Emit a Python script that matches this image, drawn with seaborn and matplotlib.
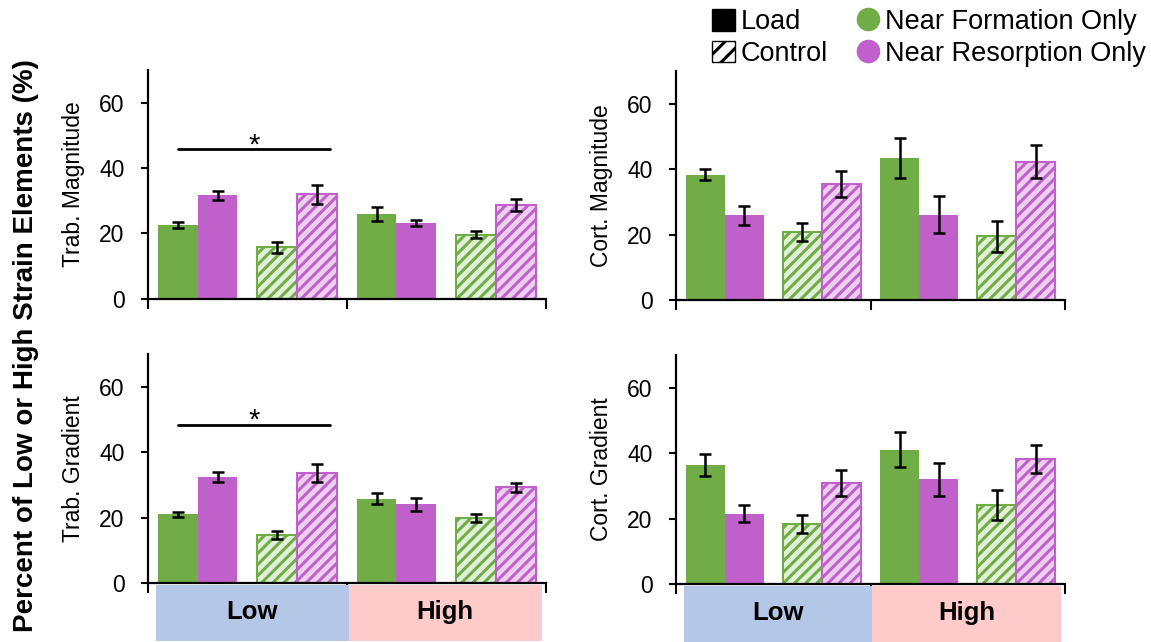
import numpy as np
import pandas as pd
import matplotlib
matplotlib.use("Agg")
import matplotlib.pyplot as plt
import matplotlib.transforms as mtransforms
from matplotlib.patches import Patch, Rectangle
from matplotlib.lines import Line2D
import seaborn as sns

# ── data ──────────────────────────────────────────────────
conditions = ["Low Load", "Low Control", "High Load", "High Control"]
sites = ["Near Formation Only", "Near Resorption Only"]

trab_mag_form = [22.4, 15.7, 25.8, 19.6]
trab_mag_form_err = [0.9, 1.7, 2.1, 1.2]
trab_mag_res = [31.6, 31.9, 23.2, 28.7]
trab_mag_res_err = [1.4, 2.8, 0.9, 1.9]

cort_mag_form = [38.3, 20.7, 43.5, 19.5]
cort_mag_form_err = [1.7, 2.7, 6.1, 4.7]
cort_mag_res = [25.9, 35.4, 26.1, 42.3]
cort_mag_res_err = [2.9, 3.9, 5.7, 5.0]

trab_grad_form = [21.0, 14.6, 25.7, 19.9]
trab_grad_form_err = [0.7, 1.2, 1.7, 1.3]
trab_grad_res = [32.4, 33.7, 24.0, 29.2]
trab_grad_res_err = [1.4, 2.8, 1.9, 1.5]

cort_grad_form = [36.3, 18.3, 41.1, 24.1]
cort_grad_form_err = [3.3, 2.7, 5.4, 4.5]
cort_grad_res = [21.4, 30.8, 32.0, 38.2]
cort_grad_res_err = [2.6, 4.0, 5.1, 4.2]

panel_labels = ["Trab. Magnitude", "Cort. Magnitude", "Trab. Gradient", "Cort. Gradient"]
group_labels = ["Low", "High"]

GREEN = "#70AD47"
PURPLE = "#C061CB"
LIGHT_GREEN = "#E2F0D9"
LIGHT_PURPLE = "#EDD0F0"
BLUE_BOX = "#B4C7E7"
PINK_BOX = "#FFCACA"

sns.set_style("white")
plt.rcParams["font.family"] = ["Liberation Sans", "DejaVu Sans"]
plt.rcParams["hatch.linewidth"] = 2.2
for key in ["text.color", "axes.labelcolor", "xtick.color", "ytick.color"]:
    plt.rcParams[key] = "black"

fig = plt.figure(figsize=(11.51, 6.42), dpi=100)
W, H = 1151, 642

def px_axes(x0, x1, y_top, y_bot):
    return fig.add_axes([x0 / W, 1 - y_bot / H, (x1 - x0) / W, (y_bot - y_top) / H])

axes = [
    px_axes(148, 545.5, 70, 298.5),
    px_axes(676, 1065, 71, 300),
    px_axes(148, 545.5, 354, 583),
    px_axes(676, 1065, 355, 584),
]

panels = [
    (trab_mag_form, trab_mag_form_err, trab_mag_res, trab_mag_res_err),
    (cort_mag_form, cort_mag_form_err, cort_mag_res, cort_mag_res_err),
    (trab_grad_form, trab_grad_form_err, trab_grad_res, trab_grad_res_err),
    (cort_grad_form, cort_grad_form_err, cort_grad_res, cort_grad_res_err),
]

for i, (ax, (form, form_err, res, res_err)) in enumerate(zip(axes, panels)):
    df = pd.DataFrame({
        "cond": conditions * 2,
        "site": [sites[0]] * 4 + [sites[1]] * 4,
        "value": form + res,
    })
    sns.barplot(data=df, x="cond", y="value", hue="site", order=conditions,
                hue_order=sites, palette={sites[0]: GREEN, sites[1]: PURPLE},
                saturation=1, errorbar=None, width=0.8, legend=False, ax=ax)

    errs = [form_err, res_err]
    lights = [LIGHT_GREEN, LIGHT_PURPLE]
    strongs = [GREEN, PURPLE]
    bar_conts = list(ax.containers)
    for k, cont in enumerate(bar_conts):
        xs, ys = [], []
        for j, bar in enumerate(cont.patches):
            xs.append(bar.get_x() + bar.get_width() / 2)
            ys.append(bar.get_height())
            if j in (1, 3):
                bar.set_facecolor(lights[k])
                bar.set_edgecolor(strongs[k])
                bar.set_hatch("///")
                bar.set_linewidth(1.5)
            else:
                bar.set_edgecolor("none")
        ax.errorbar(xs, ys, yerr=errs[k], fmt="none", ecolor="black",
                    elinewidth=1.8, capsize=4, capthick=1.8, zorder=5)

    ax.set_ylim(0, 70)
    ax.set_xlim(-0.5, 3.5)
    ax.set_yticks([0, 20, 40, 60])
    ax.set_xticks([-0.5, 1.5, 3.5])
    ax.set_xticklabels([])
    ax.set_xlabel("")
    ax.set_ylabel(panel_labels[i], fontsize=16.5, labelpad=10)
    ax.tick_params(axis="y", direction="out", length=5, width=1.5, labelsize=16.5,
                   left=True, pad=12)
    ax.tick_params(axis="x", direction="out", length=7, width=1.5, bottom=True)
    sns.despine(ax=ax)
    for s in ["left", "bottom"]:
        ax.spines[s].set_linewidth(1.6)
        ax.spines[s].set_color("black")

    # significance bar on trabecular panels
    if i in (0, 2):
        y_sig = 45.7 if i == 0 else 48.3
        ax.plot([-0.2, 1.33], [y_sig, y_sig], color="black", lw=2)
        ax.text(0.57, y_sig - 1.2, "*", ha="center", va="baseline", fontsize=21)

    # group boxes under the bottom panels
    if i in (2, 3):
        trans = mtransforms.blended_transform_factory(ax.transData, ax.transAxes)
        for (x0, x1), col, lab in zip([(-0.42, 1.52), (1.52, 3.46)],
                                      [BLUE_BOX, PINK_BOX], group_labels):
            ax.add_patch(Rectangle((x0, -0.252), x1 - x0, 0.245, transform=trans,
                                   facecolor=col, edgecolor="none", clip_on=False))
            ax.text((x0 + x1) / 2, -0.125, lab, transform=trans, ha="center",
                    va="center", fontsize=18.5, fontweight="bold")

fig.text(0.023, 0.462, "Percent of Low or High Strain Elements (%)", rotation=90,
         ha="center", va="center", fontsize=20, fontweight="bold")

handles = [
    Patch(facecolor="black", edgecolor="black", label="Load"),
    Patch(facecolor="white", edgecolor="black", hatch="//", label="Control"),
    Line2D([], [], marker="o", linestyle="none", markersize=16, color=GREEN,
           label="Near Formation Only"),
    Line2D([], [], marker="o", linestyle="none", markersize=16, color=PURPLE,
           label="Near Resorption Only"),
]
fig.legend(handles=handles, ncol=2, loc="upper right", bbox_to_anchor=(1.017, 1.024),
           frameon=False, fontsize=19.5, handlelength=0.85, handleheight=0.85,
           handletextpad=0.2, columnspacing=1.08, labelspacing=0.2)

fig.savefig("out.png", dpi=100)
